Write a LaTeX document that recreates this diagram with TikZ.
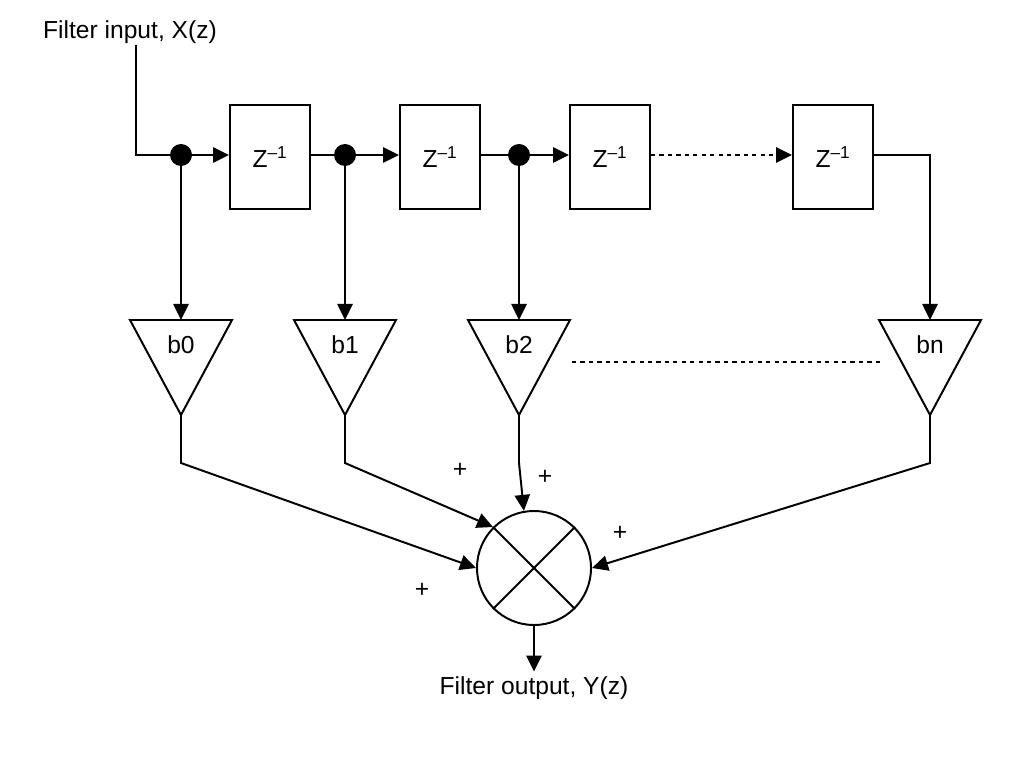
\documentclass[tikz,border=0pt]{standalone}
\usepackage{fontspec}
\setmainfont{Liberation Sans}
\usetikzlibrary{arrows.meta}
\tikzset{
  dly/.style={draw, line width=1.4pt, minimum width=2cm, minimum height=2.6cm, inner sep=0pt},
  dot/.style={circle, fill, inner sep=0pt, minimum size=0.55cm},
  lbl/.style={font=\fontsize{17.5}{20}\selectfont},
  sig/.style={line width=1.4pt, -{Triangle[length=0.4cm,width=0.38cm]}},
  wire/.style={line width=1.4pt}
}
\begin{document}
\begin{tikzpicture}[x=0.025cm,y=-0.025cm]
\useasboundingbox (0,0) rectangle (1024,768);
\node[lbl] (in) at (130,32) {Filter input, X(z)};
\coordinate (c0) at (136,155);
% delay line
\foreach \n/\x in {1/270,2/440,3/610,4/833}
  \node[dly, lbl] (z\n) at (\x,157) {Z\textsuperscript{–1}};
\node[dot] (d0) at (181,155) {};
\node[dot] (d1) at (345,155) {};
\node[dot] (d2) at (519,155) {};
\draw[wire] (136,45) -- (c0) -- (d0);
\draw[sig] (d0) -- (z1.west|-d0);
\draw[wire] (z1.east|-d1) -- (d1);
\draw[sig] (d1) -- (z2.west|-d1);
\draw[wire] (z2.east|-d2) -- (d2);
\draw[sig] (d2) -- (z3.west|-d2);
\draw[sig, dashed] (z3.east|-d2) -- (z4.west|-d2);
% taps
\foreach \n/\x in {0/181,1/345,2/519,n/930}
{
  \draw[wire] (\x-51,320) -- (\x+51,320) -- (\x,415) -- cycle;
  \node[lbl] (b\n) at (\x,345) {b\n};
  \coordinate (t\n) at (\x,320);
  \coordinate (a\n) at (\x,415);
  \coordinate (k\n) at (\x,463);
}
\draw[sig] (d0) -- (t0);
\draw[sig] (d1) -- (t1);
\draw[sig] (d2) -- (t2);
\draw[sig] (z4.east|-d2) -- (930,155) -- (tn);
\draw[wire, dashed] (572,362) -- (880,362);
% summer
\node[draw, circle, line width=1.4pt, minimum size=2.85cm] (s) at (534,568) {};
\draw[wire] (s.north west) -- (s.south east);
\draw[wire] (s.north east) -- (s.south west);
\draw[sig] (a0) -- (k0) -- (s.west);
\draw[sig] (a1) -- (k1) -- (s.north west);
\draw[sig] (a2) -- (k2) -- (s.100);
\draw[sig] (an) -- (kn) -- (s.east);
\node[lbl] (p0) at (422,590) {+};
\node[lbl] (p1) at (460,470) {+};
\node[lbl] (p2) at (545,477) {+};
\node[lbl] (pn) at (620,533) {+};
\node[lbl] (out) at (534,688) {Filter output, Y(z)};
\draw[sig] (s.south) -- (out.north);
\end{tikzpicture}
\end{document}
